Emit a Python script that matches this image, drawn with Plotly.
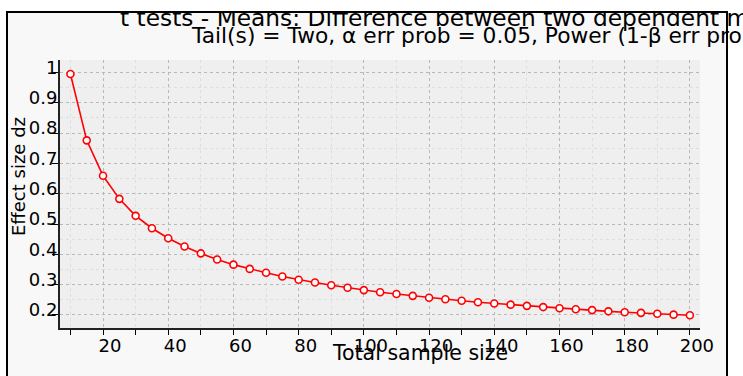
import plotly.graph_objects as go

# Data
sample_size = [10, 15, 20, 25, 30, 35, 40, 45, 50, 55, 60, 65, 70, 75, 80, 85, 90, 95, 100,
               105, 110, 115, 120, 125, 130, 135, 140, 145, 150, 155, 160, 165, 170, 175,
               180, 185, 190, 195, 200]
effect_size_dz = [0.995, 0.776, 0.659, 0.583, 0.527, 0.486, 0.453, 0.426, 0.403, 0.383,
                  0.366, 0.352, 0.339, 0.327, 0.316, 0.307, 0.298, 0.290, 0.282,
                  0.275, 0.269, 0.263, 0.257, 0.252, 0.247, 0.242, 0.238, 0.234, 0.230,
                  0.226, 0.222, 0.219, 0.216, 0.212, 0.209, 0.207, 0.204, 0.201, 0.199]
x_tick_vals = [20, 40, 60, 80, 100, 120, 140, 160, 180, 200]
y_tick_vals = [0.2, 0.3, 0.4, 0.5, 0.6, 0.7, 0.8, 0.9, 1.0]
y_tick_text = ["0.2", "0.3", "0.4", "0.5", "0.6", "0.7", "0.8", "0.9", "1"]

title_line1 = "t tests - Means: Difference between two dependent means (matched pairs)"
title_line2 = "Tail(s) = Two, α err prob = 0.05, Power (1-β err prob) = 0.8"
x_title = "Total sample size"
y_title = "Effect size dz"

FONT = "DejaVu Sans"
W, H = 743, 376
PLOT_L, PLOT_R, PLOT_T, PLOT_B = 60, 700, 60, 328
XR = [6.8, 203.1]
YR = [0.157, 1.041]


def fx(xp):
    return xp / W


def fy(yp):
    return 1 - yp / H


fig = go.Figure()
fig.add_trace(go.Scatter(
    x=sample_size, y=effect_size_dz, mode="lines+markers",
    line=dict(color="#ff0000", width=1.6),
    marker=dict(symbol="circle", size=7, color="white",
                line=dict(color="#ff0000", width=1.6)),
    showlegend=False, hoverinfo="x+y", xaxis="x", yaxis="y",
))

# Title lines as text marks on a full-figure helper axis pair (pixel units),
# so the frame drawn above can overlay / clip them like in the reference
fig.add_trace(go.Scatter(
    x=[120], y=[20.5], mode="text", text=[title_line1],
    textposition="middle right", textfont=dict(size=23.3, family=FONT, color="black"),
    marker=dict(size=0), cliponaxis=False, showlegend=False, hoverinfo="skip",
    xaxis="x2", yaxis="y2",
))
fig.add_trace(go.Scatter(
    x=[192], y=[37.8], mode="text", text=[title_line2],
    textposition="middle right", textfont=dict(size=21.75, family=FONT, color="black"),
    marker=dict(size=0), cliponaxis=False, showlegend=False, hoverinfo="skip",
    xaxis="x2", yaxis="y2",
))

grid_major = "#b8b8b8"
grid_minor = "#dedede"

fig.update_layout(
    width=W, height=H,
    margin=dict(l=0, r=0, t=0, b=0, pad=0, autoexpand=False),
    paper_bgcolor="white",
    plot_bgcolor="rgba(0,0,0,0)",
    font=dict(family=FONT, color="black", size=18),
    xaxis=dict(
        domain=[fx(PLOT_L), fx(PLOT_R)], anchor="y", automargin=False,
        range=XR, tickvals=x_tick_vals,
        ticks="outside", ticklen=5, tickcolor="black", tickwidth=1,
        showline=True, linecolor="#222222", linewidth=2,
        showgrid=True, gridcolor=grid_major, griddash="dot", gridwidth=1,
        zeroline=False,
        tickfont=dict(size=18, family=FONT),
        ticklabelshift=7, ticklabelstandoff=-5,
        minor=dict(dtick=10, tick0=0, ticks="outside", ticklen=5, tickcolor="black",
                   showgrid=True, gridcolor=grid_minor, griddash="dot", gridwidth=1),
    ),
    yaxis=dict(
        domain=[fy(PLOT_B), fy(PLOT_T)], anchor="x", automargin=False,
        range=YR, tickvals=y_tick_vals, ticktext=y_tick_text,
        ticks="outside", ticklen=6, tickcolor="black", tickwidth=1,
        showline=True, linecolor="#222222", linewidth=2,
        showgrid=True, gridcolor=grid_major, griddash="dot", gridwidth=1,
        zeroline=False,
        tickfont=dict(size=18, family=FONT),
        ticklabelshift=-5, ticklabelstandoff=-9,
        minor=dict(dtick=0.05, tick0=0, ticks="",
                   showgrid=True, gridcolor=grid_minor, griddash="dot", gridwidth=1),
    ),
    xaxis2=dict(domain=[0, 1], range=[0, W], visible=False, anchor="y2",
                automargin=False, fixedrange=True),
    yaxis2=dict(domain=[0, 1], range=[H, 0], visible=False, anchor="x2",
                automargin=False, fixedrange=True),
    shapes=[
        # panel background inside the frame
        dict(type="rect", xref="paper", yref="paper", layer="below",
             x0=fx(7), x1=fx(727), y0=fy(392), y1=fy(12),
             fillcolor="#f8f8f8", line=dict(width=0)),
        # plot area background
        dict(type="rect", xref="paper", yref="paper", layer="below",
             x0=fx(PLOT_L), x1=fx(PLOT_R), y0=fy(PLOT_B), y1=fy(PLOT_T),
             fillcolor="#efefef", line=dict(width=0)),
        # white strip above the frame clips the title tops
        dict(type="rect", xref="paper", yref="paper", layer="above",
             x0=-0.05, x1=1.05, y0=fy(11.5), y1=1.05,
             fillcolor="white", line=dict(width=0)),
        # frame outline drawn over the title text
        dict(type="rect", xref="paper", yref="paper", layer="above",
             x0=fx(7), x1=fx(727), y0=fy(392), y1=fy(12),
             fillcolor="rgba(0,0,0,0)", line=dict(color="black", width=2)),
    ],
    annotations=[
        dict(text=x_title, xref="paper", yref="paper", x=fx(420), y=fy(353),
             xanchor="center", yanchor="middle", showarrow=False,
             font=dict(size=20.5, family=FONT)),
        dict(text=y_title, xref="paper", yref="paper", x=fx(18), y=fy(177),
             xanchor="center", yanchor="middle", showarrow=False, textangle=-90,
             font=dict(size=18, family=FONT)),
    ],
)

fig.write_html("out.html", config={"displayModeBar": False},
               post_script="document.body.style.margin='0px';")
